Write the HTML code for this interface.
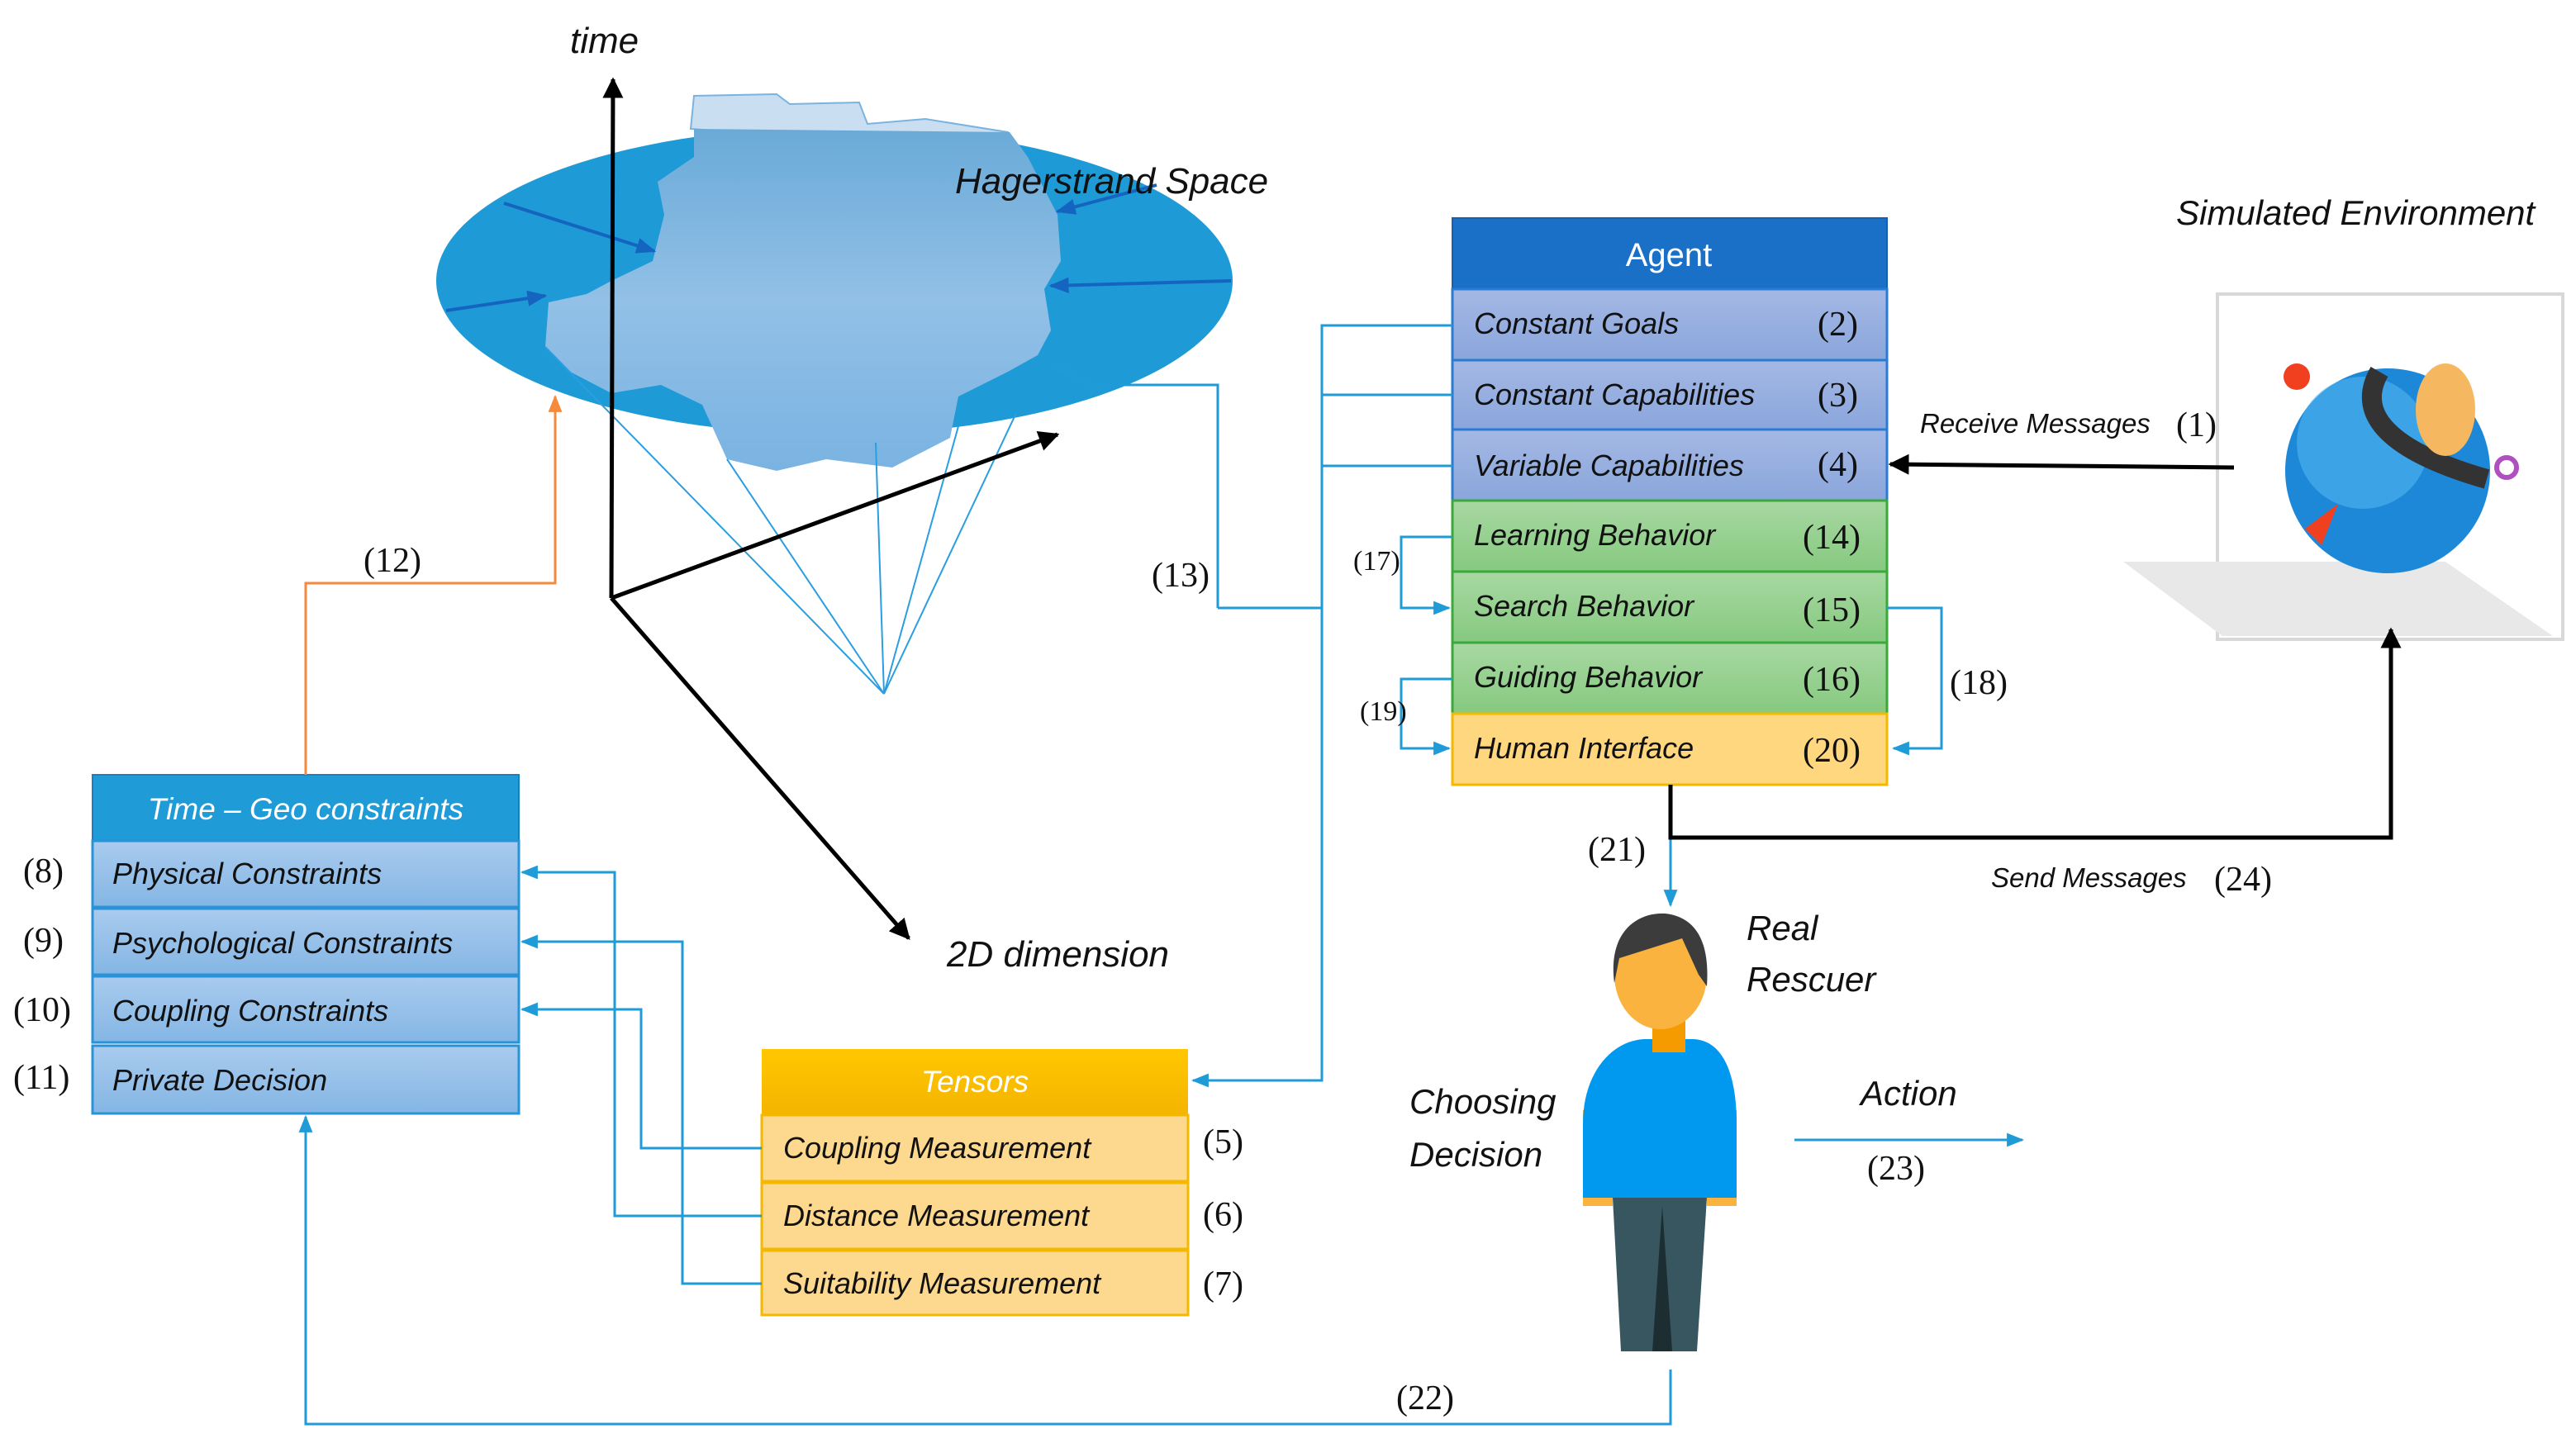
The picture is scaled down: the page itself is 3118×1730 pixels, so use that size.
<!DOCTYPE html>
<html><head><meta charset="utf-8"><style>
html,body{margin:0;padding:0;background:#fff;}
svg{display:block;}
.t{font-family:"Liberation Sans",sans-serif;font-style:italic;font-size:18px;fill:#111;}
.w{font-family:"Liberation Sans",sans-serif;font-style:italic;font-size:18.5px;fill:#fff;}
.n{font-family:"Liberation Serif",serif;font-size:21px;fill:#111;}
</style></head><body>
<svg width="3118" height="1730" viewBox="0 0 1559 865" xmlns="http://www.w3.org/2000/svg">
<defs>
<marker id="ab" viewBox="0 0 10 10" refX="9" refY="5" markerWidth="5" markerHeight="5" orient="auto"><path d="M0,0L10,5L0,10z" fill="#000"/></marker>
<marker id="abl" viewBox="0 0 10 10" refX="9" refY="5" markerWidth="7" markerHeight="7" orient="auto"><path d="M0,1L10,5L0,9z" fill="#1f9bd7"/></marker>
<marker id="ao" viewBox="0 0 10 10" refX="9" refY="5" markerWidth="7" markerHeight="7" orient="auto"><path d="M0,1L10,5L0,9z" fill="#f58a3c"/></marker>
<marker id="ad" viewBox="0 0 10 10" refX="9" refY="5" markerWidth="6" markerHeight="6" orient="auto"><path d="M0,1L10,5L0,9z" fill="#1565c0"/></marker>
<linearGradient id="gb" x1="0" y1="0" x2="0" y2="1"><stop offset="0" stop-color="#a9cbee"/><stop offset="1" stop-color="#84b6e4"/></linearGradient>
<linearGradient id="ga" x1="0" y1="0" x2="0" y2="1"><stop offset="0" stop-color="#a4b8e4"/><stop offset="1" stop-color="#8aa6dc"/></linearGradient>
<linearGradient id="gg" x1="0" y1="0" x2="0" y2="1"><stop offset="0" stop-color="#a8d8a2"/><stop offset="1" stop-color="#86c980"/></linearGradient>
<linearGradient id="gy" x1="0" y1="0" x2="0" y2="1"><stop offset="0" stop-color="#ffc700"/><stop offset="1" stop-color="#f5b400"/></linearGradient>
<linearGradient id="gblob" x1="0" y1="0" x2="0" y2="1"><stop offset="0" stop-color="#6aaad8"/><stop offset="0.5" stop-color="#92c0e6"/><stop offset="1" stop-color="#7ab3e2"/></linearGradient>
</defs>

<ellipse cx="505" cy="170" rx="241" ry="93" fill="#1e9ad6"/>
<path d="M418,78 L420,58 L470,57 L478,63 L520,62 L525,75 L560,72 L610,80 L611,92 Z" fill="#c9def0" stroke="#79b3e0" stroke-width="1"/>
<path d="M420,78 L611,80 L622,95 L640,130 L642,158 L632,175 L636,200 L628,215 L610,225 L580,240 L575,265 L540,283 L500,278 L470,285 L440,278 L425,245 L400,233 L370,238 L345,225 L330,210 L332,183 L355,178 L370,170 L395,158 L402,130 L398,110 L420,95 Z" fill="url(#gblob)"/>
<g stroke="#1565c0" stroke-width="2" fill="none">
<line x1="305" y1="123" x2="396" y2="152" marker-end="url(#ad)"/>
<line x1="270" y1="188" x2="330" y2="179" marker-end="url(#ad)"/>
<line x1="700" y1="112" x2="640" y2="128" marker-end="url(#ad)"/>
<line x1="745" y1="170" x2="636" y2="173" marker-end="url(#ad)"/>
</g>
<g stroke="#2a9ee0" stroke-width="1" fill="none">
<line x1="535" y1="420" x2="330" y2="210"/>
<line x1="535" y1="420" x2="440" y2="278"/>
<line x1="535" y1="420" x2="530" y2="268"/>
<line x1="535" y1="420" x2="580" y2="258"/>
<line x1="535" y1="420" x2="615" y2="250"/>
</g>
<g stroke="#000" stroke-width="2.5" fill="none">
<line x1="370" y1="362" x2="371" y2="48" marker-end="url(#ab)"/>
<line x1="370" y1="362" x2="640" y2="263" marker-end="url(#ab)"/>
<line x1="370" y1="362" x2="550" y2="568" marker-end="url(#ab)"/>
</g>
<text x="345" y="32" class="t" style="font-size:22px">time</text>
<text x="578" y="117" class="t" style="font-size:22px">Hagerstrand Space</text>
<text x="573" y="585" class="t" style="font-size:22px">2D dimension</text>

<rect x="56" y="469" width="258" height="40" fill="#1f9bd7" stroke="#1a7fc0"/>
<text x="185" y="496" class="w" text-anchor="middle">Time – Geo constraints</text>
<g stroke="#2a92d6" stroke-width="1.5" fill="url(#gb)">
<rect x="56" y="509" width="258" height="40"/>
<rect x="56" y="550" width="258" height="40"/>
<rect x="56" y="591" width="258" height="40"/>
<rect x="56" y="633" width="258" height="41"/>
</g>
<text x="68" y="535" class="t">Physical Constraints</text>
<text x="68" y="577" class="t">Psychological Constraints</text>
<text x="68" y="618" class="t">Coupling Constraints</text>
<text x="68" y="660" class="t">Private Decision</text>
<text x="14" y="534" class="n">(8)</text>
<text x="14" y="576" class="n">(9)</text>
<text x="8" y="618" class="n">(10)</text>
<text x="8" y="659" class="n">(11)</text>

<rect x="461" y="635" width="258" height="40" fill="url(#gy)"/>
<text x="590" y="661" class="w" text-anchor="middle">Tensors</text>
<g stroke="#f5b800" stroke-width="1.5" fill="#fdd98f">
<rect x="461" y="675" width="258" height="40"/>
<rect x="461" y="716" width="258" height="40"/>
<rect x="461" y="757" width="258" height="39"/>
</g>
<text x="474" y="701" class="t">Coupling Measurement</text>
<text x="474" y="742" class="t">Distance Measurement</text>
<text x="474" y="783" class="t">Suitability Measurement</text>
<text x="728" y="698" class="n">(5)</text>
<text x="728" y="742" class="n">(6)</text>
<text x="728" y="784" class="n">(7)</text>

<rect x="879" y="132" width="263" height="43" fill="#1a6fc7" stroke="#1560b0"/>
<text x="1010" y="161" font-family="Liberation Sans,sans-serif" font-size="20" fill="#fff" text-anchor="middle">Agent</text>
<g stroke="#2b7bd0" stroke-width="1.5" fill="url(#ga)">
<rect x="879" y="175" width="263" height="43"/>
<rect x="879" y="218" width="263" height="42"/>
<rect x="879" y="260" width="263" height="43"/>
</g>
<g stroke="#3aa83a" stroke-width="1.5" fill="url(#gg)">
<rect x="879" y="303" width="263" height="43"/>
<rect x="879" y="346" width="263" height="43"/>
<rect x="879" y="389" width="263" height="43"/>
</g>
<rect x="879" y="432" width="263" height="43" fill="#ffd77e" stroke="#f5b800" stroke-width="1.5"/>
<text x="892" y="202" class="t">Constant Goals</text>
<text x="892" y="245" class="t">Constant Capabilities</text>
<text x="892" y="288" class="t">Variable Capabilities</text>
<text x="892" y="330" class="t">Learning Behavior</text>
<text x="892" y="373" class="t">Search Behavior</text>
<text x="892" y="416" class="t">Guiding Behavior</text>
<text x="892" y="459" class="t">Human Interface</text>
<text x="1100" y="203" class="n">(2)</text>
<text x="1100" y="246" class="n">(3)</text>
<text x="1100" y="288" class="n">(4)</text>
<text x="1091" y="332" class="n">(14)</text>
<text x="1091" y="376" class="n">(15)</text>
<text x="1091" y="418" class="n">(16)</text>
<text x="1091" y="461" class="n">(20)</text>

<text x="1317" y="136" class="t" style="font-size:21px">Simulated Environment</text>
<rect x="1342" y="178" width="209" height="209" fill="#fff" stroke="#d8d8d8" stroke-width="2"/>
<polygon points="1285,340 1480,340 1545,385 1345,385" fill="#e8e8e8"/>
<circle cx="1445" cy="285" r="62" fill="#1e88d8"/>
<circle cx="1430" cy="268" r="40" fill="#4fb6f0" opacity="0.6"/>
<path d="M1440,225 C1420,260 1470,280 1505,290" stroke="#333" stroke-width="12" fill="none"/>
<ellipse cx="1480" cy="248" rx="18" ry="28" fill="#f5b860"/>
<circle cx="1390" cy="228" r="8" fill="#f04020"/>
<path d="M1395,320 L1415,305 L1405,330z" fill="#f04020"/>
<circle cx="1517" cy="283" r="6" fill="none" stroke="#b050c0" stroke-width="3"/>
<text x="1162" y="262" class="t" style="font-size:16.5px">Receive Messages</text>
<text x="1317" y="264" class="n">(1)</text>
<line x1="1352" y1="283" x2="1144" y2="281" stroke="#000" stroke-width="2.5" marker-end="url(#ab)"/>

<g stroke="#1f9bd7" stroke-width="1.5" fill="none">
<polyline points="879,197 800,197 800,654 722,654" marker-end="url(#abl)"/>
<line x1="800" y1="239" x2="879" y2="239"/>
<line x1="800" y1="282" x2="879" y2="282"/>
<polyline points="879,325 848,325 848,368 877,368" marker-end="url(#abl)"/>
<polyline points="879,411 848,411 848,453 877,453" marker-end="url(#abl)"/>
<polyline points="1142,368 1175,368 1175,453 1146,453" marker-end="url(#abl)"/>
<polyline points="737,368 737,233 660,233 636,220" marker-end="url(#abl)"/>
<line x1="737" y1="368" x2="800" y2="368"/>
<polyline points="461,695 388,695 388,611 316,611" marker-end="url(#abl)"/>
<polyline points="461,736 372,736 372,528 316,528" marker-end="url(#abl)"/>
<polyline points="461,777 413,777 413,570 316,570" marker-end="url(#abl)"/>
<polyline points="1011,829 1011,862 185,862 185,676" marker-end="url(#abl)"/>
<line x1="1011" y1="507" x2="1011" y2="548" marker-end="url(#abl)"/>
<line x1="1086" y1="690" x2="1224" y2="690" marker-end="url(#abl)"/>
</g>
<polyline points="185,469 185,353 336,353 336,240" stroke="#f58a3c" stroke-width="1.5" fill="none" marker-end="url(#ao)"/>
<polyline points="1011,475 1011,507 1447,507 1447,381" stroke="#000" stroke-width="2.5" fill="none" marker-end="url(#ab)"/>

<text x="220" y="346" class="n">(12)</text>
<text x="697" y="355" class="n">(13)</text>
<text x="819" y="345" class="n" style="font-size:17px">(17)</text>
<text x="823" y="436" class="n" style="font-size:17px">(19)</text>
<text x="1180" y="420" class="n">(18)</text>
<text x="961" y="521" class="n">(21)</text>
<text x="845" y="853" class="n">(22)</text>
<text x="1130" y="714" class="n">(23)</text>
<text x="1205" y="537" class="t" style="font-size:16.5px">Send Messages</text>
<text x="1340" y="539" class="n">(24)</text>

<rect x="958" y="672" width="18" height="58" fill="#fbb33f"/>
<rect x="1033" y="672" width="18" height="58" fill="#fbb33f"/>
<path d="M958,680 C958,650 975,630 995,629 L1025,629 C1045,630 1051,655 1051,680 L1051,725 L958,725z" fill="#0099ef"/>
<path d="M976,725 L1033,725 L1027,818 L981,818z" fill="#37565f"/>
<path d="M1006,730 L1012,818 L1000,818z" fill="#1d2e33"/>
<rect x="1000" y="615" width="20" height="22" fill="#f59b00"/>
<ellipse cx="1005" cy="590" rx="28" ry="33" fill="#fbb33f"/>
<path d="M977,595 C973,565 990,552 1008,553 C1025,555 1035,568 1033,597 L1028,590 L1018,568 L980,580z" fill="#3c3c3c"/>
<text x="1057" y="569" class="t" style="font-size:21px">Real</text>
<text x="1057" y="600" class="t" style="font-size:21px">Rescuer</text>
<text x="853" y="674" class="t" style="font-size:21px">Choosing</text>
<text x="853" y="706" class="t" style="font-size:21px">Decision</text>
<text x="1126" y="669" class="t" style="font-size:21px">Action</text>
</svg>
</body></html>
